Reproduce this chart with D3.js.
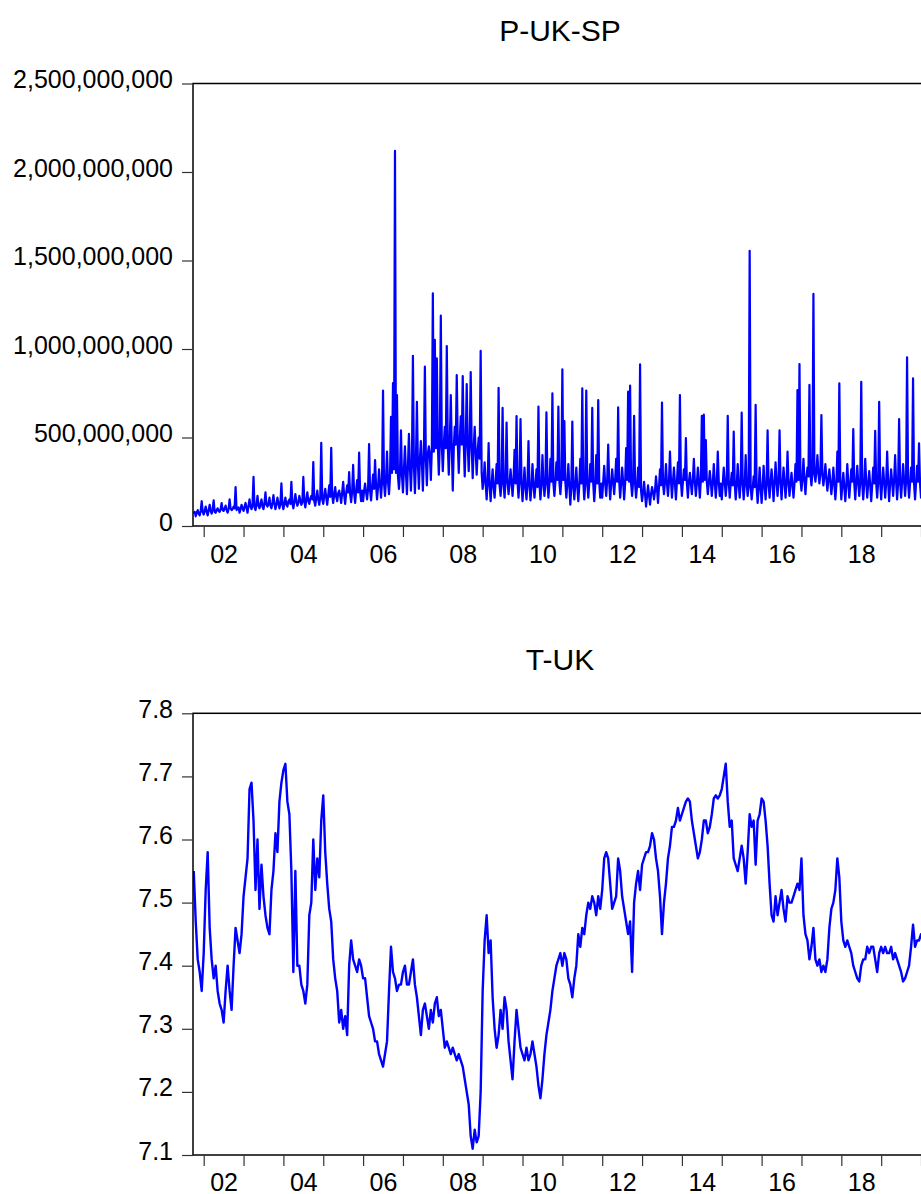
<!DOCTYPE html>
<html><head><meta charset="utf-8">
<script src="https://cdn.jsdelivr.net/npm/d3@7"></script>
<style>body{margin:0;background:#fff}svg{display:block}</style>
</head><body>
<svg id="chart" width="921" height="1194"></svg>
<script>
// ---- data ----
const startYear = 2001.75;   // first observation (decimal year)
const pStep = 0.025;         // spacing of P-UK-SP readings (years)
const tStep = 0.05;          // spacing of T-UK readings (years)

// P-UK-SP, millions
const pukSP = [
  70,80,55,75,90,70,60,85,140,80,
  65,85,110,80,60,90,120,85,70,95,145,80,75,90,100,85,80,95,130,90,85,100,115,90,75,95,150,100,90,95,110,100,220,90,100,105,75,95,120,100,
  85,110,130,100,75,115,150,110,95,120,278,105,90,120,170,115,100,125,150,110,95,130,190,120,110,125,160,115,100,130,175,125,95,120,160,130,100,125,241,120,
  95,130,160,120,110,140,150,125,250,130,100,135,180,140,115,130,170,145,120,135,277,140,105,150,190,140,125,155,170,150,361,140,115,160,200,150,120,165,470,150,
  125,170,210,160,120,175,230,165,442,170,130,180,220,165,140,185,200,170,130,190,250,175,125,185,230,190,305,180,135,195,345,185,130,200,260,190,414,195,140,200,
  140,200,240,190,150,210,463,200,145,220,290,210,373,230,150,220,320,240,160,250,765,240,170,260,420,250,180,280,617,300,808,320,2119,300,740,280,210,300,540,290,
  190,320,450,300,180,340,520,330,200,360,962,340,185,360,702,350,210,380,480,360,200,400,900,380,230,410,450,400,260,440,1315,420,1051,440,947,460,290,470,1188,460,
  310,460,560,440,1017,460,290,470,740,450,200,440,560,460,853,470,300,480,620,460,847,470,280,480,802,460,310,470,870,450,270,440,560,420,290,420,500,380,989,300,
  210,260,360,240,150,250,469,230,140,240,320,220,160,250,350,240,780,230,170,250,667,240,160,260,584,250,180,240,320,250,170,260,430,240,621,250,160,260,604,240,
  140,230,330,220,150,240,480,230,145,220,350,240,160,230,320,220,674,240,150,230,400,250,170,240,642,250,160,240,380,250,750,240,170,250,360,260,674,250,180,260,
  885,260,593,250,160,240,350,230,120,220,590,230,150,240,330,220,140,230,380,240,778,250,150,240,765,250,160,240,350,250,667,240,140,230,400,240,712,250,160,240,
  160,250,340,240,170,260,460,250,150,240,320,250,180,260,380,250,670,260,160,240,330,250,150,240,440,260,759,250,793,240,170,250,623,240,160,230,330,220,913,200,
  140,190,250,180,110,170,230,175,120,180,220,190,150,200,280,210,130,220,320,230,697,240,180,250,350,240,170,250,420,260,160,250,330,240,150,250,360,240,740,250,
  170,250,320,260,497,240,160,250,300,240,180,260,380,250,170,240,330,250,160,260,623,250,629,260,486,250,180,240,310,250,170,240,350,250,160,240,420,250,170,240,
  150,240,330,250,170,240,623,250,160,240,300,230,533,240,150,230,350,240,160,250,640,240,150,230,400,240,170,230,1555,220,150,210,280,220,684,220,130,210,330,220,
  130,220,340,230,150,240,540,240,160,250,320,240,140,250,360,250,170,260,540,250,150,240,330,250,160,240,420,250,170,240,300,230,160,240,350,250,768,260,915,260,
  200,270,380,260,180,270,330,280,797,290,230,300,1311,300,250,310,400,300,240,300,627,290,230,280,350,270,200,260,320,250,180,240,330,240,150,230,420,250,806,260,
  150,230,300,220,140,230,350,240,160,240,320,250,548,240,150,250,340,240,170,250,815,240,150,240,380,250,160,240,310,230,140,230,330,240,538,240,160,250,702,250,
  150,240,330,250,160,240,420,250,140,240,320,250,170,260,400,250,150,240,604,250,160,250,350,260,170,250,953,250,160,240,330,250,834,240,150,240,340,250,467,240,
  160,250,350,240,150,240,320,240
];

// T-UK
const tUK = [
  7.55,7.47,7.41,7.39,7.36,
  7.42,7.52,7.58,7.46,7.41,7.38,7.40,7.36,7.34,7.33,7.31,7.36,7.40,7.36,7.33,7.40,7.46,7.44,7.42,7.45,
  7.51,7.54,7.57,7.68,7.69,7.63,7.52,7.60,7.49,7.56,7.51,7.48,7.46,7.45,7.52,7.55,7.61,7.58,7.66,7.69,
  7.71,7.72,7.66,7.64,7.55,7.39,7.55,7.40,7.40,7.37,7.36,7.34,7.37,7.48,7.50,7.60,7.52,7.57,7.54,7.63,
  7.67,7.58,7.53,7.49,7.47,7.41,7.38,7.36,7.31,7.33,7.30,7.32,7.29,7.40,7.44,7.41,7.40,7.39,7.41,7.40,
  7.38,7.38,7.35,7.32,7.31,7.30,7.28,7.28,7.26,7.25,7.24,7.26,7.28,7.36,7.43,7.39,7.38,7.36,7.37,7.37,
  7.39,7.40,7.37,7.37,7.39,7.41,7.37,7.35,7.32,7.29,7.33,7.34,7.32,7.30,7.33,7.31,7.34,7.35,7.32,7.33,
  7.30,7.27,7.28,7.27,7.26,7.27,7.26,7.25,7.26,7.25,7.24,7.22,7.20,7.18,7.13,7.11,7.14,7.12,7.13,7.20,
  7.36,7.44,7.48,7.42,7.44,7.35,7.30,7.27,7.29,7.33,7.30,7.35,7.33,7.28,7.25,7.22,7.28,7.33,7.30,7.27,
  7.26,7.25,7.27,7.25,7.26,7.28,7.26,7.24,7.21,7.19,7.22,7.26,7.29,7.31,7.33,7.36,7.38,7.40,7.41,7.42,
  7.40,7.42,7.41,7.38,7.37,7.35,7.38,7.40,7.45,7.43,7.46,7.45,7.48,7.50,7.49,7.51,7.50,7.48,7.51,7.49,
  7.52,7.57,7.58,7.57,7.53,7.49,7.50,7.51,7.57,7.55,7.51,7.49,7.47,7.45,7.47,7.39,7.50,7.53,7.55,7.52,
  7.56,7.57,7.58,7.58,7.59,7.61,7.60,7.57,7.55,7.51,7.45,7.50,7.53,7.57,7.59,7.62,7.62,7.63,7.65,7.63,
  7.64,7.65,7.66,7.665,7.66,7.63,7.61,7.59,7.57,7.58,7.60,7.63,7.63,7.61,7.62,7.64,7.665,7.67,7.665,7.67,
  7.68,7.70,7.72,7.66,7.62,7.63,7.57,7.56,7.55,7.57,7.59,7.57,7.53,7.58,7.64,7.62,7.63,7.56,7.63,7.64,
  7.665,7.66,7.63,7.59,7.53,7.48,7.47,7.51,7.48,7.50,7.52,7.49,7.47,7.51,7.50,7.50,7.51,7.52,7.53,7.52,
  7.57,7.48,7.45,7.44,7.41,7.43,7.46,7.41,7.40,7.41,7.39,7.40,7.39,7.41,7.46,7.49,7.50,7.52,7.57,7.54,
  7.47,7.44,7.43,7.44,7.43,7.42,7.40,7.39,7.38,7.375,7.40,7.41,7.41,7.43,7.42,7.43,7.43,7.41,7.39,7.42,
  7.43,7.42,7.43,7.42,7.42,7.43,7.41,7.42,7.41,7.40,7.39,7.375,7.38,7.39,7.40,7.43,7.465,7.43,7.44,7.44,
  7.45,7.44,7.45,7.44
];

const xTickYears = [2002,2003,2004,2005,2006,2007,2008,2009,2010,2011,2012,2013,2014,2015,2016,2017,2018,2019,2020];
const xLabelYears = [2002,2004,2006,2008,2010,2012,2014,2016,2018];
const pTicks = [0,500,1000,1500,2000,2500];
const tTicks = [7.1,7.2,7.3,7.4,7.5,7.6,7.7,7.8];

// ---- drawing ----
const FONT = '"Liberation Sans", Arial, sans-serif';
const svg = d3.select('#chart');
const PL = 193, PR = 927;
const x = d3.scaleLinear().domain([2001.7315, 2020.15]).range([PL, PR]);

function drawPanel(cfg) {
  const y = d3.scaleLinear().domain(cfg.domain).range([cfg.bottom, cfg.top]);
  const g = svg.append('g');
  const cid = 'clip' + cfg.key;
  svg.append('clipPath').attr('id', cid).append('rect')
    .attr('x', PL).attr('y', cfg.top).attr('width', PR - PL).attr('height', cfg.bottom - cfg.top);

  g.append('text').attr('x', (PL + PR) / 2).attr('y', cfg.titleY)
    .attr('text-anchor', 'middle').attr('font-family', FONT).attr('font-size', cfg.titleSize)
    .attr('fill', '#000').text(cfg.title);

  const line = d3.line().x((d, i) => x(startYear + i * cfg.step)).y(d => y(d));
  g.append('path').datum(cfg.values).attr('clip-path', `url(#${cid})`)
    .attr('fill', 'none').attr('stroke', '#0000ff').attr('stroke-width', cfg.lw)
    .attr('stroke-linejoin', 'round').attr('d', line);

  g.append('rect').attr('x', PL).attr('y', cfg.top).attr('width', PR - PL).attr('height', cfg.bottom - cfg.top)
    .attr('fill', 'none').attr('stroke', '#000').attr('stroke-width', 1.5);

  const ya = g.append('g').attr('transform', `translate(${PL},0)`)
    .call(d3.axisLeft(y).tickValues(cfg.ticks).tickFormat(cfg.fmt).tickSize(11).tickPadding(9).tickSizeOuter(0));
  ya.select('.domain').remove();
  ya.attr('font-family', FONT).attr('font-size', 25);
  ya.selectAll('text').attr('dy', '0.16em').attr('fill', '#000');
  ya.selectAll('line').attr('stroke', '#333').attr('stroke-width', 1.2);

  const xa = g.append('g').attr('transform', `translate(0,${cfg.bottom})`)
    .call(d3.axisBottom(x).tickValues(xTickYears).tickFormat('').tickSize(11).tickSizeOuter(0));
  xa.select('.domain').remove();
  xa.selectAll('line').attr('stroke', '#333').attr('stroke-width', 1.2);

  const xl = g.append('g').attr('transform', `translate(0,${cfg.bottom})`)
    .call(d3.axisBottom(x).tickValues(xLabelYears.map(v => v + 0.5))
      .tickFormat(d => String(Math.floor(d) % 100).padStart(2, '0')).tickSize(0).tickPadding(0));
  xl.select('.domain').remove();
  xl.selectAll('line').remove();
  xl.attr('font-family', FONT).attr('font-size', 25);
  xl.selectAll('text').attr('y', cfg.labelOffset).attr('dy', null).attr('fill', '#000');
}

drawPanel({
  key: 'p', title: 'P-UK-SP', titleY: 41, titleSize: 30, step: pStep,
  top: 83.5, bottom: 526, domain: [0, 2500], ticks: pTicks, labelOffset: 37,
  fmt: d => d3.format(',')(d * 1e6), values: pukSP, lw: 2.2
});
drawPanel({
  key: 't', title: 'T-UK', titleY: 670, titleSize: 30, step: tStep,
  top: 713.3, bottom: 1155, domain: [7.1, 7.8], ticks: tTicks, labelOffset: 35.5,
  fmt: d3.format('.1f'), values: tUK, lw: 2.4
});
</script>
</body></html>
